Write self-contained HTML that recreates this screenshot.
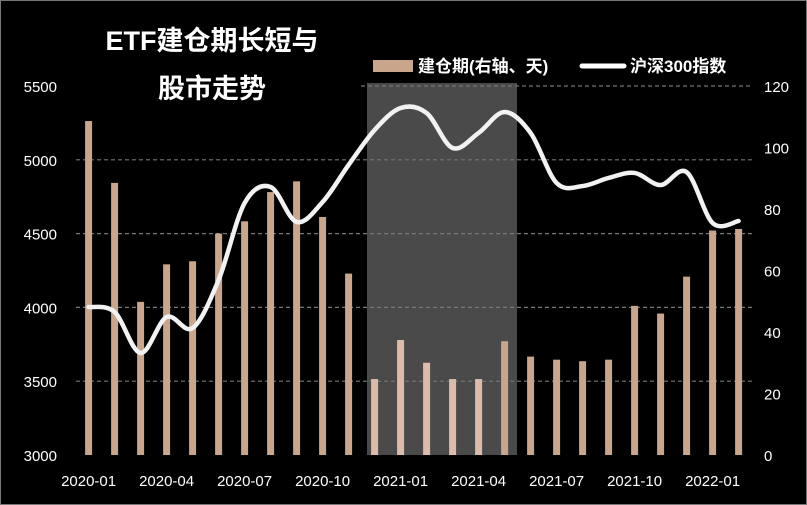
<!DOCTYPE html>
<html><head><meta charset="utf-8"><style>
html,body{margin:0;padding:0;background:#000;}
svg{display:block;font-family:"Liberation Sans","Noto Sans CJK SC",sans-serif;}
</style></head><body>
<svg id="c" width="807" height="505">
<rect x="0.5" y="0.5" width="806" height="504" fill="#000" stroke="#777"/>
<rect x="367" y="83" width="150" height="372" fill="#4a4a4a"/>
<g id="grid"></g><g id="bars"></g><g id="line"></g><g id="axes"></g>
<text x="212" y="50" fill="#fff" font-size="27" font-weight="bold" text-anchor="middle">ETF建仓期长短与</text>
<text x="212" y="98" fill="#fff" font-size="27" font-weight="bold" text-anchor="middle">股市走势</text>
<g>
<rect x="373" y="60" width="40" height="12" fill="#c9a58b"/>
<text x="418" y="72" fill="#fff" font-size="17" font-weight="bold">建仓期(右轴、天)</text>
<line x1="582" y1="66" x2="624" y2="66" stroke="#fff" stroke-width="5" stroke-linecap="round"/>
<text x="630" y="72" fill="#fff" font-size="17" font-weight="bold">沪深300指数</text>
</g>
</svg>
<script>
const categories=["2020-01","2020-02","2020-03","2020-04","2020-05","2020-06","2020-07","2020-08","2020-09","2020-10","2020-11","2020-12","2021-01","2021-02","2021-03","2021-04","2021-05","2021-06","2021-07","2021-08","2021-09","2021-10","2021-11","2021-12","2022-01","2022-02"];
const buildDays=[108.6,88.5,49.8,62,63,72,76,85.5,89,77.4,59,24.7,37.4,30,24.7,24.7,37,32,31,30.5,31,48.5,46,58,73,73.5];
const csi300=[4003,3969,3691,3935,3860,4186,4707,4816,4579,4714,4965,5202,5351,5317,5080,5182,5324,5182,4843,4822,4877,4911,4829,4917,4572,4585];
const leftTicks=[3000,3500,4000,4500,5000,5500];
const rightTicks=[0,20,40,60,80,100,120];
const xLabels=["2020-01","2020-04","2020-07","2020-10","2021-01","2021-04","2021-07","2021-10","2022-01"];
const NS="http://www.w3.org/2000/svg";
const yL=v=>455-(v-3000)*369/2500;
const yR=v=>455-v*369/120;
const xI=i=>88.6+i*26;
function mk(t,a,p){const e=document.createElementNS(NS,t);for(const k in a)e.setAttribute(k,a[k]);p.appendChild(e);return e;}
const grid=document.getElementById('grid'),bars=document.getElementById('bars'),line=document.getElementById('line'),axes=document.getElementById('axes');
leftTicks.forEach((v,i)=>{
 if(i>0){const g=mk('line',{x1:i==5?361:76,x2:753,y1:yL(v),y2:yL(v),stroke:'#777','stroke-dasharray':'4,3','stroke-width':1.2},grid);
 
 }
 const t=mk('text',{x:57,y:yL(v)+6,fill:'#fff','font-size':15,'text-anchor':'end'},axes);t.textContent=v;
 
 
});
rightTicks.forEach(v=>{
 const t=mk('text',{x:764,y:yR(v)+6,fill:'#fff','font-size':15},axes);t.textContent=v;
 
 
});
xLabels.forEach(l=>{
 const i=categories.indexOf(l);
 const t=mk('text',{x:xI(i),y:486,fill:'#fff','font-size':15,'text-anchor':'middle'},axes);t.textContent=l;
 
 
});
buildDays.forEach((v,i)=>{
 const inShade=i>=11&&i<=15;
 const r=mk('rect',{x:xI(i)-3.5,y:yR(v),width:7,height:455-yR(v),fill:inShade?'#dcbca8':'#c9a58b'},bars);
 
 
});
const pts=csi300.map((v,i)=>[xI(i),yL(v)]);
let d='M'+pts[0][0]+','+pts[0][1];
for(let i=0;i<pts.length-1;i++){
 const p0=pts[Math.max(0,i-1)],p1=pts[i],p2=pts[i+1],p3=pts[Math.min(pts.length-1,i+2)];
 const c1=[p1[0]+(p2[0]-p0[0])/6,p1[1]+(p2[1]-p0[1])/6],c2=[p2[0]-(p3[0]-p1[0])/6,p2[1]-(p3[1]-p1[1])/6];
 d+=' C'+c1+' '+c2+' '+p2;
}
const pl=mk('path',{d:d,fill:'none',stroke:'#f2f2f2','stroke-width':4.5,'stroke-linecap':'round','stroke-linejoin':'round'},line);


</script>
</body></html>
